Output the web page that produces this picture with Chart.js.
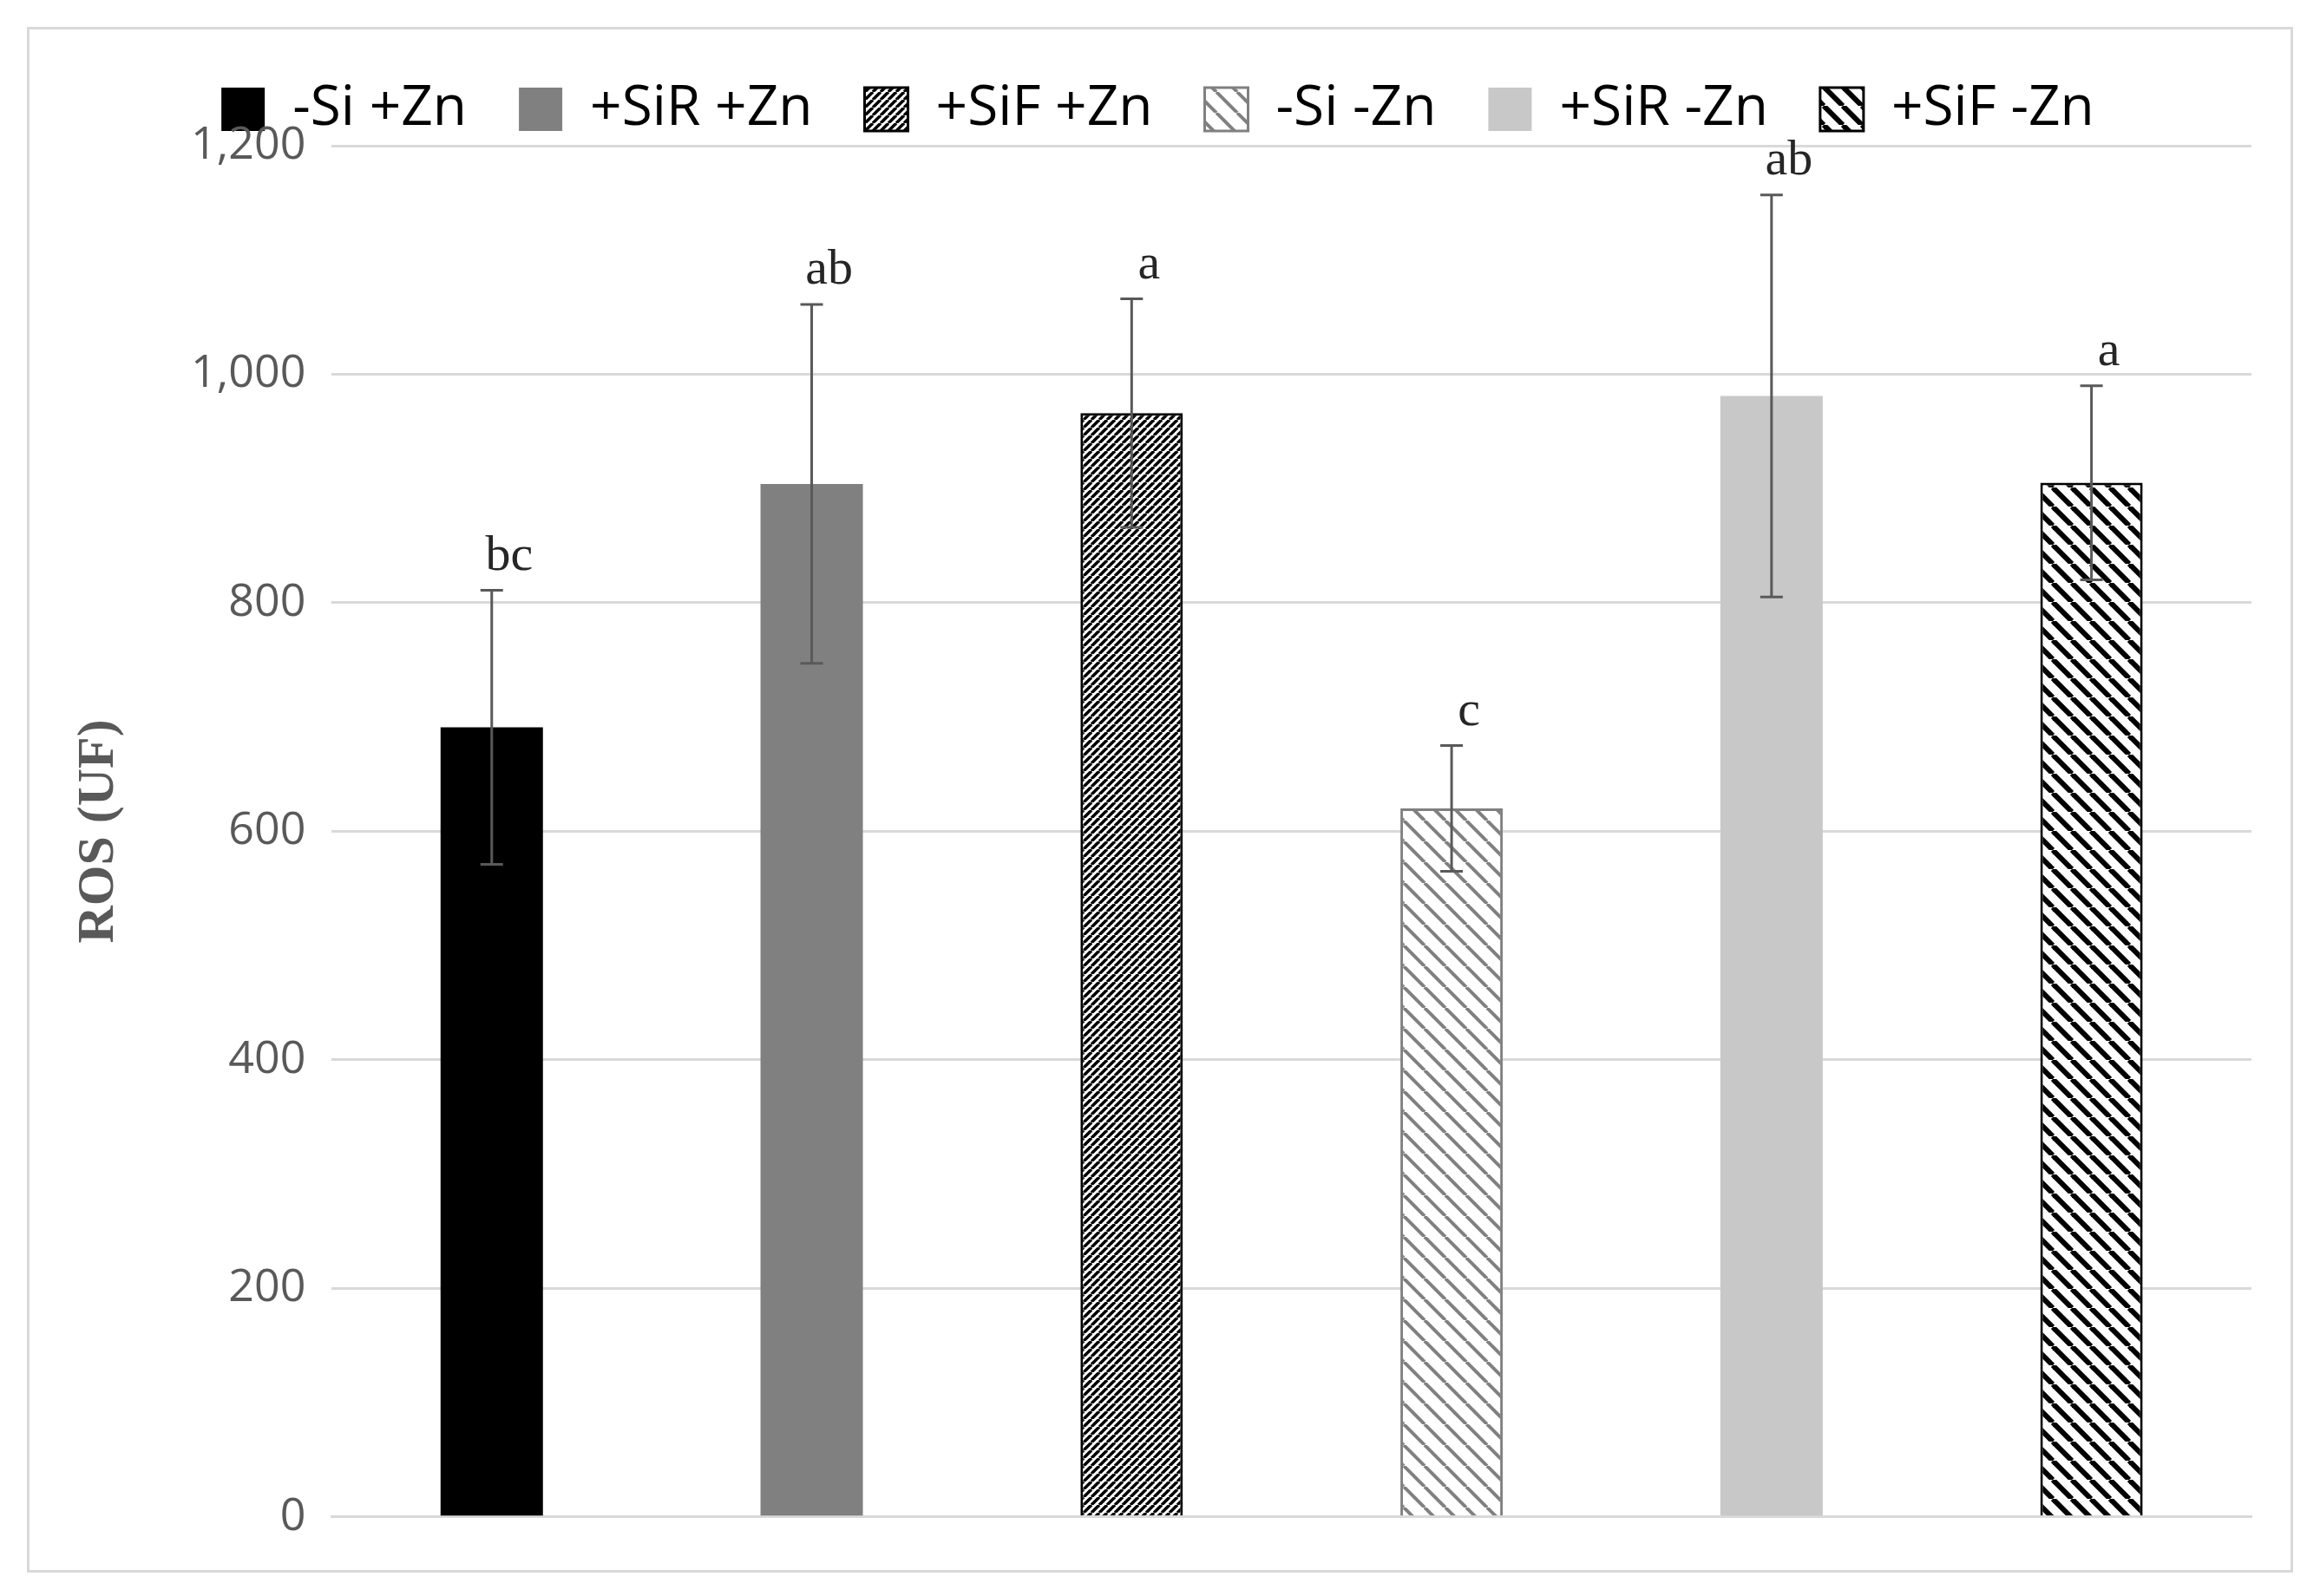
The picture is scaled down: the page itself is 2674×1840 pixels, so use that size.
<!DOCTYPE html>
<html><head><meta charset="utf-8">
<script src="https://cdn.jsdelivr.net/npm/chart.js@4"></script>
<style>
html,body{margin:0;background:#fff}
#box{position:absolute;left:31px;top:31px;width:2612px;height:1782px;border:3px solid #d9d9d9;box-sizing:border-box}
canvas{position:absolute;left:0;top:0}
</style></head><body>
<div id="box"><canvas id="c" width="2606" height="1776" style="width:2606px;height:1776px"></canvas></div>
<script>
const groups = ['-Si +Zn', '+SiR +Zn', '+SiF +Zn', '-Si -Zn', '+SiR -Zn', '+SiF -Zn'];
const rosValues = [691, 904, 966, 620, 981, 905];
const rosErrors = [120, 157, 100, 55, 176, 85];
const letters = ['bc', 'ab', 'a', 'c', 'ab', 'a'];
const yTicks = [0, 200, 400, 600, 800, 1000, 1200];

// 斜线填充
function hatch(fg, gap, lw, dir) {
  const p = document.createElement('canvas');
  p.width = gap; p.height = gap;
  const g = p.getContext('2d');
  g.fillStyle = '#fff'; g.fillRect(0, 0, gap, gap);
  g.strokeStyle = fg; g.lineWidth = lw;
  for (let k = -1; k <= 1; k++) {
    g.beginPath();
    if (dir > 0) { g.moveTo(k * gap, gap); g.lineTo(k * gap + gap, 0); }
    else { g.moveTo(k * gap, 0); g.lineTo(k * gap + gap, gap); }
    g.stroke();
  }
  return document.createElement('canvas').getContext('2d').createPattern(p, 'repeat');
}
const fills = ['#000000', '#808080', hatch('#000', 9, 3.5, 1), hatch('#808080', 24, 4, -1), '#c8c8c8', hatch('#000', 22, 6, -1)];
const borders = ['#000', '#808080', '#000', '#808080', '#c8c8c8', '#000'];
const bw = [0, 0, 3, 3, 0, 3];

const extras = {
  id: 'extras',
  afterDatasetsDraw(chart) {
    const ctx = chart.ctx, y = chart.scales.y;
    chart.getDatasetMeta(0).data.forEach((bar, i) => {
      const top = y.getPixelForValue(rosValues[i] + rosErrors[i]);
      const bot = y.getPixelForValue(rosValues[i] - rosErrors[i]);
      ctx.save();
      ctx.strokeStyle = '#595959'; ctx.lineWidth = 3;
      ctx.beginPath();
      ctx.moveTo(bar.x, top); ctx.lineTo(bar.x, bot);
      ctx.moveTo(bar.x - 13, top); ctx.lineTo(bar.x + 13, top);
      ctx.moveTo(bar.x - 13, bot); ctx.lineTo(bar.x + 13, bot);
      ctx.stroke();
      ctx.fillStyle = '#262626';
      ctx.font = '58px "Liberation Serif", serif';
      ctx.textAlign = 'center'; ctx.textBaseline = 'bottom';
      ctx.fillText(letters[i], bar.x + 20, top - 10);
      ctx.restore();
    });
  }
};

Chart.defaults.font.family = '"Open Sans", "DejaVu Sans", sans-serif';
new Chart(document.getElementById('c'), {
  type: 'bar',
  data: { labels: groups, datasets: [{ data: rosValues, backgroundColor: fills, borderColor: borders, borderWidth: bw,
    barPercentage: 0.32, categoryPercentage: 1 }] },
  options: {
    responsive: false, animation: false, devicePixelRatio: 1,
    layout: { padding: { left: 40, right: 45, top: 0, bottom: 44 } },
    plugins: {
      tooltip: { enabled: false },
      legend: {
        position: 'top',
        labels: {
          color: '#404040', font: { size: 64 }, boxWidth: 50, boxHeight: 50, padding: 60,
          generateLabels: () => groups.map((g, i) => ({ text: g, fillStyle: fills[i], strokeStyle: borders[i], lineWidth: bw[i] ? 3 : 0, datasetIndex: 0 }))
        }
      }
    },
    scales: {
      x: { ticks: { display: false }, grid: { display: false }, border: { color: '#d9d9d9', width: 3 } },
      y: {
        min: 0, max: 1200,
        afterBuildTicks: s => { s.ticks = yTicks.map(v => ({ value: v })); },
        ticks: { color: '#595959', font: { size: 52 }, padding: 30 },
        grid: { color: '#d9d9d9', lineWidth: 3, drawTicks: false },
        border: { display: false },
        title: { display: true, text: 'ROS (UF)', color: '#595959', padding: { bottom: 40 }, font: { size: 60, weight: 'bold', family: '"Liberation Serif", serif' } }
      }
    }
  },
  plugins: [extras]
});
</script></body></html>
